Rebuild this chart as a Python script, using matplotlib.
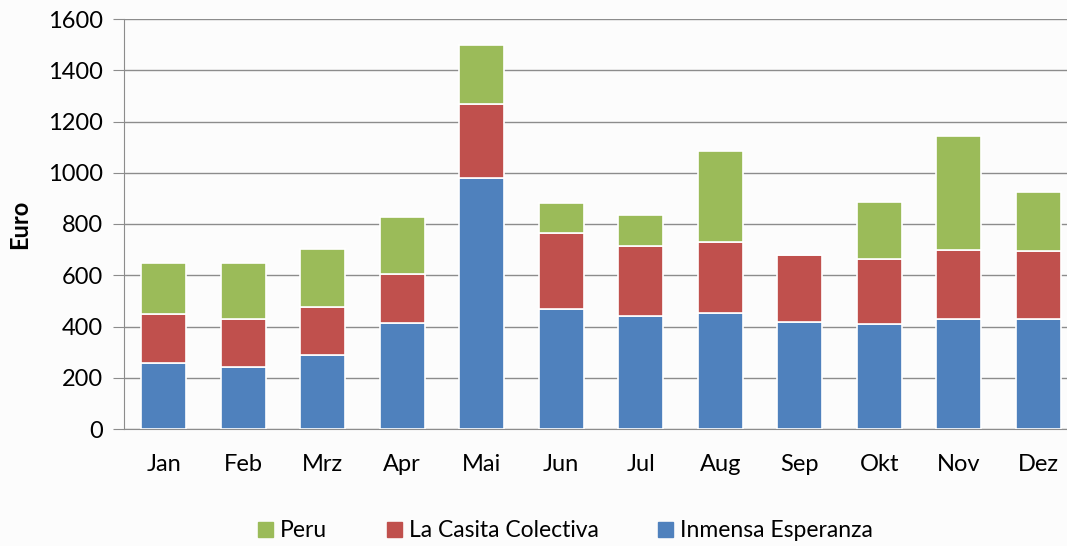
import numpy as np
import matplotlib.pyplot as plt
from matplotlib.patches import Patch

# data
months = ["Jan", "Feb", "Mrz", "Apr", "Mai", "Jun", "Jul", "Aug", "Sep", "Okt", "Nov", "Dez"]
inmensa = [259, 243, 288, 413, 978, 470, 441, 452, 418, 411, 431, 431]
casita = [188, 188, 189, 192, 292, 293, 274, 277, 260, 253, 268, 263]
peru = [200, 216, 226, 223, 230, 120, 121, 356, 0, 223, 446, 232]

c_blue = "#4f81bd"
c_red = "#c0504d"
c_green = "#9bbb59"

plt.rcParams["font.family"] = ["Lato", "DejaVu Sans"]

fig = plt.figure(figsize=(10.67, 5.46), dpi=100)
fig.patch.set_facecolor("#fcfcfc")
# axes run a bit past the right edge, like in the original
ax = fig.add_axes([124/1067, 1 - 429/546, (12*79.5)/1067, (429-19)/546])
ax.set_facecolor("#fcfcfc")

x = np.arange(len(months))
w = 0.56
b1 = np.array(inmensa)
b2 = b1 + np.array(casita)

ax.bar(x, inmensa, w, color=c_blue, edgecolor="white", lw=1.2, zorder=3)
ax.bar(x, casita, w, bottom=b1, color=c_red, edgecolor="white", lw=1.2, zorder=3)
ax.bar(x, peru, w, bottom=b2, color=c_green, edgecolor="white", lw=1.2, zorder=3)

ax.set_xlim(-0.5, len(months) - 0.5)
ax.set_ylim(0, 1600)
ax.set_yticks(np.arange(0, 1601, 200))
ax.set_xticks(x)
ax.set_xticklabels(months)
ax.grid(axis="y", color="#8c8c8c", lw=1, zorder=0)

for s in ["top", "right"]:
    ax.spines[s].set_visible(False)
ax.spines["left"].set_color("#8c8c8c")
ax.spines["bottom"].set_color("#8c8c8c")
ax.tick_params(axis="y", length=8, color="#8c8c8c", labelsize=17, pad=7)
ax.tick_params(axis="x", length=0, labelsize=17, pad=18)

ax.set_ylabel("Euro", fontsize=17, fontweight="bold", labelpad=12)

handles = [Patch(color=c_green, label="Peru"),
           Patch(color=c_red, label="La Casita Colectiva"),
           Patch(color=c_blue, label="Inmensa Esperanza")]
fig.legend(handles=handles, loc="center", bbox_to_anchor=(0.53, 0.028), ncol=3,
           frameon=False, fontsize=16.5, handlelength=0.65, handleheight=0.65,
           handletextpad=0.3, columnspacing=2.6)

plt.savefig("out.png", dpi=100, facecolor=fig.get_facecolor())
